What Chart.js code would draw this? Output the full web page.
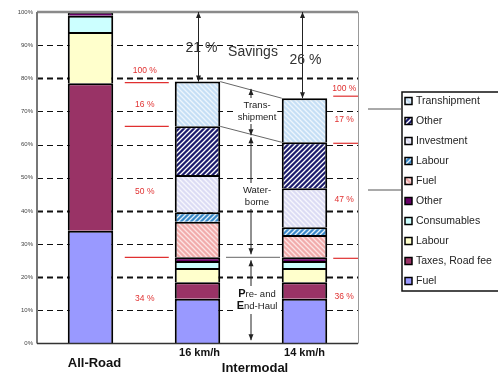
<!DOCTYPE html>
<html><head><meta charset="utf-8">
<script src="https://cdn.jsdelivr.net/npm/chart.js@4"></script>
<style>html,body{margin:0;padding:0;background:#fff;overflow:hidden}#wrap{width:498px;height:374px;position:relative}</style>
</head><body><div id="wrap"><canvas id="c"></canvas></div>
<script>
// Categories and group caption
const categories = ['All-Road', '16 km/h', '14 km/h'];
const groupLabel = 'Intermodal';

// Road haulage costs (% of all-road cost)
const roadFuel        = [34.0, 13.5, 13.5];
const roadTaxes       = [44.5, 5.0, 5.0];
const roadLabour      = [15.5, 4.3, 4.3];
const roadConsumables = [4.9, 2.1, 2.1];
const roadOther       = [1.1, 1.1, 1.1];

// Water-borne leg and transhipment
const waterFuel       = [null, 10.7, 6.7];
const waterLabour     = [null, 2.9, 2.4];
const waterInvestment = [null, 11.2, 11.7];
const waterOther      = [null, 14.7, 13.9];
const transhipment    = [null, 13.5, 13.3];

// Axis ticks and the share labels beside each intermodal bar (top to bottom)
const yTicks = [0, 10, 20, 30, 40, 50, 60, 70, 80, 90, 100];
const shares16 = ['100 %', '16 %', '50 %', '34 %'];
const shares14 = ['100 %', '17 %', '47 %', '36 %'];
const legendLabels = ['Transhipment', 'Other', 'Investment', 'Labour', 'Fuel',
                      'Other', 'Consumables', 'Labour', 'Taxes, Road fee', 'Fuel'];

const FONT = 'Arial, "Liberation Sans", sans-serif';

function hatch(bg, fg, dir) {
  const s = 5, c = document.createElement('canvas');
  c.width = s; c.height = s;
  const g = c.getContext('2d');
  g.fillStyle = bg; g.fillRect(0, 0, s, s);
  g.strokeStyle = fg; g.lineWidth = 1.3;
  g.beginPath();
  if (dir === '\\') {
    g.moveTo(0, 0); g.lineTo(s, s);
    g.moveTo(-1, s - 1); g.lineTo(1, s + 1);
    g.moveTo(s - 1, -1); g.lineTo(s + 1, 1);
  } else {
    g.moveTo(0, s); g.lineTo(s, 0);
    g.moveTo(-1, 1); g.lineTo(1, -1);
    g.moveTo(s - 1, s + 1); g.lineTo(s + 1, s - 1);
  }
  g.stroke();
  return c.getContext('2d').createPattern(c, 'repeat');
}

const stack = [
  { label: 'Fuel', data: roadFuel, fill: '#9999ff' },
  { label: 'Taxes, Road fee', data: roadTaxes, fill: '#993366' },
  { label: 'Labour', data: roadLabour, fill: '#ffffcc' },
  { label: 'Consumables', data: roadConsumables, fill: '#ccffff' },
  { label: 'Other', data: roadOther, fill: '#660066' },
  { label: 'Fuel', data: waterFuel, fill: hatch('#f1abab', '#fde4e4', '\\') },
  { label: 'Labour', data: waterLabour, fill: hatch('#3a88c8', '#e2f1fb', '/') },
  { label: 'Investment', data: waterInvestment, fill: hatch('#dcdcf4', '#f7f7fd', '\\') },
  { label: 'Other', data: waterOther, fill: hatch('#1c1c6c', '#ffffff', '/') },
  { label: 'Transhipment', data: transhipment, fill: hatch('#c6dff5', '#eef6fd', '\\') }
];

function cum(idx, upto) {
  let s = 0;
  for (let k = 0; k <= upto; k++) s += stack[k].data[idx] || 0;
  return s;
}

function arrowHead(ctx, x, y, dirDown) {
  ctx.beginPath();
  ctx.moveTo(x, y);
  ctx.lineTo(x - 2.5, dirDown ? y - 6 : y + 6);
  ctx.lineTo(x + 2.5, dirDown ? y - 6 : y + 6);
  ctx.closePath(); ctx.fill();
}
function vArrow(ctx, x, y1, y2, headTop, headBottom) {
  ctx.beginPath(); ctx.moveTo(x, y1); ctx.lineTo(x, y2); ctx.stroke();
  if (headTop) arrowHead(ctx, x, y1, false);
  if (headBottom) arrowHead(ctx, x, y2, true);
}

const overlay = {
  id: 'overlay',
  beforeDatasetsDraw(chart) {
    const { ctx, chartArea: a, scales: { y } } = chart;
    ctx.save();
    ctx.strokeStyle = '#111';
    ctx.setLineDash([6, 4]);
    yTicks.forEach(v => {
      if (v === 0 || v === 100) return;
      const py = Math.round(y.getPixelForValue(v)) + 0.5;
      ctx.lineWidth = (v === 20 || v === 40 || v === 80) ? 2 : 1;
      ctx.beginPath(); ctx.moveTo(a.left, py); ctx.lineTo(a.right, py); ctx.stroke();
    });
    ctx.restore();
  },
  afterDatasetsDraw(chart) {
    const { ctx, chartArea: a, scales: { x, y } } = chart;
    const W = chart.width;
    const top = stack.length - 1, wTop = 8, rTop = 4;
    const x1 = x.getPixelForValue(1), x2 = x.getPixelForValue(2);
    const half = chart.getDatasetMeta(0).data[1].width / 2;
    ctx.save();

    // frame
    ctx.strokeStyle = '#8a8a8a'; ctx.lineWidth = 2.5;
    ctx.beginPath(); ctx.moveTo(a.left, a.top); ctx.lineTo(a.right, a.top); ctx.stroke();
    ctx.strokeStyle = '#777'; ctx.lineWidth = 2;
    ctx.beginPath(); ctx.moveTo(a.left, a.top); ctx.lineTo(a.left, a.bottom); ctx.stroke();
    ctx.strokeStyle = '#999'; ctx.lineWidth = 1;
    ctx.beginPath(); ctx.moveTo(a.right + 0.5, a.top); ctx.lineTo(a.right + 0.5, a.bottom); ctx.stroke();
    ctx.strokeStyle = '#333'; ctx.lineWidth = 1.5;
    ctx.beginPath(); ctx.moveTo(a.left, a.bottom); ctx.lineTo(a.right, a.bottom); ctx.stroke();

    // connectors between the two intermodal bars
    ctx.strokeStyle = '#666'; ctx.lineWidth = 1;
    [top, wTop].forEach(k => {
      ctx.beginPath();
      ctx.moveTo(x1 + half, y.getPixelForValue(cum(1, k)));
      ctx.lineTo(x2 - half, y.getPixelForValue(cum(2, k)));
      ctx.stroke();
    });
    // boundary of pre- and end-haul
    const mid = (x1 + x2) / 2;
    const roadY = y.getPixelForValue((cum(1, rTop) + cum(2, rTop)) / 2);
    ctx.beginPath(); ctx.moveTo(mid - 25, roadY); ctx.lineTo(mid + 29, roadY); ctx.stroke();

    // savings arrows
    ctx.strokeStyle = '#222'; ctx.fillStyle = '#222'; ctx.lineWidth = 1;
    const t1 = cum(1, top), t2 = cum(2, top);
    vArrow(ctx, x1 + 1, y.getPixelForValue(100), y.getPixelForValue(t1), true, true);
    vArrow(ctx, x2 - 2, y.getPixelForValue(100), y.getPixelForValue(t2), true, true);
    ctx.fillStyle = '#333';
    ctx.font = '14px ' + FONT; ctx.textAlign = 'center'; ctx.textBaseline = 'middle';
    ctx.fillText(Math.round(100 - t1) + ' %', x1 + 4, 48);
    ctx.fillText('Savings', mid + 2, 52);
    ctx.fillText(Math.round(100 - t2) + ' %', x2 + 1, 60);

    // span arrows for the three legs
    const midTop = y.getPixelForValue((t1 + t2) / 2) - 1;
    const midW = y.getPixelForValue((cum(1, wTop) + cum(2, wTop)) / 2) + 2;
    ctx.fillStyle = '#222'; ctx.strokeStyle = '#222';
    vArrow(ctx, mid, midTop, midW - 1, true, true);
    vArrow(ctx, mid, midW + 1, roadY - 3, true, true);
    vArrow(ctx, mid, roadY + 3, y.getPixelForValue(1), true, true);

    function block(lines, cy) {
      ctx.font = '9.5px ' + FONT;
      const w = Math.max(...lines.map(l => ctx.measureText(l).width)) + 2;
      ctx.fillStyle = '#fff';
      ctx.fillRect(mid + 6 - w / 2, cy - 7, w, lines.length * 12 + 2);
      ctx.fillStyle = '#222';
      lines.forEach((l, i) => ctx.fillText(l, mid + 6, cy + i * 12));
    }
    block(['Trans-', 'shipment'], 105);
    block(['Water-', 'borne'], 190);
    // "Pre- and / End-Haul" with enlarged initials
    ctx.fillStyle = '#fff'; ctx.fillRect(mid - 16, 286, 46, 28);
    [['P', 're- and', 294], ['E', 'nd-Haul', 306]].forEach(([cap, rest, cy]) => {
      ctx.font = 'bold 11px ' + FONT; const wc = ctx.measureText(cap).width;
      ctx.font = '9.5px ' + FONT; const wr = ctx.measureText(rest).width;
      const sx = mid + 6 - (wc + wr) / 2;
      ctx.textAlign = 'left'; ctx.fillStyle = '#111';
      ctx.font = 'bold 11px ' + FONT; ctx.fillText(cap, sx, cy);
      ctx.font = '9.5px ' + FONT; ctx.fillStyle = '#222'; ctx.fillText(rest, sx + wc, cy);
      ctx.textAlign = 'center';
    });

    // share markers and labels in red
    ctx.strokeStyle = '#e03030'; ctx.fillStyle = '#e03030'; ctx.lineWidth = 1.2;
    ctx.font = '8.5px ' + FONT;
    const lx0 = x1 - half - 50, lx1 = x1 - half - 6;
    const rx0 = x2 + half + 6, rx1 = a.right;
    [[cum(1, top)], [cum(1, wTop)], [cum(1, rTop)]].forEach(([v]) => {
      const py = y.getPixelForValue(v) + (v === t1 ? 1 : 0);
      ctx.beginPath(); ctx.moveTo(lx0, py); ctx.lineTo(lx1, py); ctx.stroke();
    });
    [[cum(2, top)], [cum(2, wTop)], [cum(2, rTop)]].forEach(([v]) => {
      const py = y.getPixelForValue(v) + (v === t2 ? -2 : 1);
      ctx.beginPath(); ctx.moveTo(rx0, py); ctx.lineTo(rx1, py); ctx.stroke();
    });
    const ly16 = [71, 105, 192, 299], ly14 = [89, 120, 200, 297];
    shares16.forEach((s, i) => ctx.fillText(s, lx0 + 20, ly16[i]));
    shares14.forEach((s, i) => ctx.fillText(s, rx0 + 11, ly14[i]));

    // category labels
    ctx.fillStyle = '#111';
    ctx.font = 'bold 13px ' + FONT;
    ctx.fillText(categories[0], x.getPixelForValue(0) + 4, 363);
    ctx.font = 'bold 11px ' + FONT;
    ctx.fillText(categories[1], x1 + 2, 353);
    ctx.fillText(categories[2], x2, 353);
    ctx.font = 'bold 13px ' + FONT;
    ctx.fillText(groupLabel, mid + 4, 368);

    // legend (box open on the right, running to the edge)
    const bx = 402, by = 92;
    ctx.strokeStyle = '#111'; ctx.lineWidth = 1.5;
    ctx.beginPath();
    ctx.moveTo(W, by); ctx.lineTo(bx, by); ctx.lineTo(bx, by + 199); ctx.lineTo(W, by + 199);
    ctx.stroke();
    ctx.strokeStyle = '#555'; ctx.lineWidth = 1;
    [109, 190].forEach(py => { ctx.beginPath(); ctx.moveTo(368, py); ctx.lineTo(bx, py); ctx.stroke(); });
    ctx.textAlign = 'left'; ctx.font = '10.5px ' + FONT;
    const ds = chart.data.datasets.slice().reverse();
    ds.forEach((d, i) => {
      const cy = 101 + i * 20;
      ctx.fillStyle = d.backgroundColor; ctx.fillRect(405, cy - 3.5, 7, 7);
      ctx.strokeStyle = '#000'; ctx.lineWidth = 1.5; ctx.strokeRect(405, cy - 3.5, 7, 7);
      ctx.fillStyle = '#222'; ctx.fillText(legendLabels[i], 416, cy);
    });
    ctx.restore();
  }
};

new Chart(document.getElementById('c'), {
  type: 'bar',
  data: {
    labels: categories,
    datasets: stack.map(s => ({
      label: s.label, data: s.data, backgroundColor: s.fill,
      borderColor: '#000', borderWidth: 2,
      barPercentage: 0.85, categoryPercentage: 0.5
    }))
  },
  options: {
    responsive: true, maintainAspectRatio: false, animation: false,
    devicePixelRatio: 1,
    layout: { padding: { left: 0, right: 140, top: 12, bottom: 0 } },
    plugins: { legend: { display: false }, tooltip: { enabled: false } },
    scales: {
      x: {
        stacked: true,
        grid: { display: false, drawTicks: false },
        border: { display: false },
        ticks: { display: false },
        afterFit: s => { s.height = 30.5; }
      },
      y: {
        stacked: true, min: 0, max: 100,
        grid: { display: false, drawTicks: false },
        border: { display: false },
        afterBuildTicks: s => { s.ticks = yTicks.map(v => ({ value: v })); },
        ticks: {
          padding: 4, color: '#444', font: { size: 6, family: FONT },
          callback: v => v + '%'
        },
        afterFit: s => { s.width = 37; }
      }
    }
  },
  plugins: [overlay]
});
</script>
</body></html>
